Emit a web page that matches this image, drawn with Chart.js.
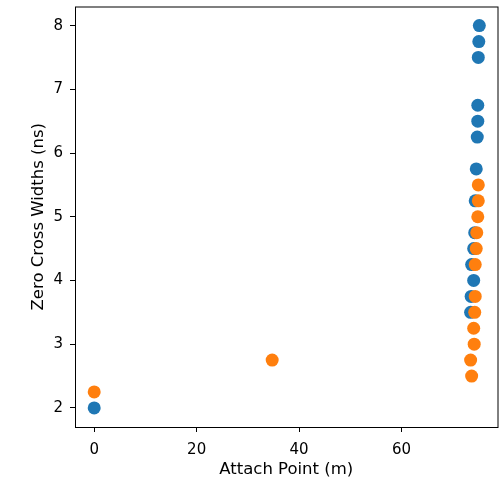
<!DOCTYPE html>
<html>
<head>
<meta charset="utf-8">
<script src="https://cdn.jsdelivr.net/npm/chart.js@4"></script>
<style>
    html, body { margin: 0; padding: 0; background: #fff; }
    #wrap { width: 504px; height: 480px; }
</style>
</head>
<body>
<div id="wrap"><canvas id="scatterChart" width="504" height="480"></canvas></div>
<script>
// blue series
const blueX = [0, 75.2, 75.1, 75.0, 74.9, 74.9, 74.8, 74.6, 74.4, 74.3, 74.1, 73.7, 74.1, 73.6, 73.5];
const blueY = [2.0, 8.0, 7.75, 7.5, 6.75, 6.5, 6.25, 5.75, 5.25, 4.75, 4.5, 4.25, 4.0, 3.75, 3.5];
// orange series
const orangeX = [0, 34.75, 75.0, 75.0, 74.9, 74.7, 74.6, 74.4, 74.4, 74.3, 74.1, 74.2, 73.5, 73.7];
const orangeY = [2.25, 2.75, 5.5, 5.25, 5.0, 4.75, 4.5, 4.25, 3.75, 3.5, 3.25, 3.0, 2.75, 2.5];

const xTicks = [0, 20, 40, 60];
const yTicks = [2, 3, 4, 5, 6, 7, 8];

function toPoints(xs, ys) {
    return xs.map((x, i) => ({ x: x, y: ys[i] }));
}

// matplotlib draws all four spines
const boxPlugin = {
    id: 'box',
    afterDraw(chart) {
        const { ctx, chartArea: a } = chart;
        ctx.save();
        ctx.strokeStyle = '#000';
        ctx.lineWidth = 1;
        ctx.strokeRect(a.left + 0.5, a.top + 0.5, a.right - a.left, a.bottom - a.top);
        ctx.restore();
    }
};

const tickFont = { family: 'DejaVu Sans', size: 15 };
const yTickFont = { family: 'DejaVu Sans', size: 15, lineHeight: 0.6 };
const titleFont = { family: 'DejaVu Sans', size: 16.5 };

new Chart(document.getElementById('scatterChart'), {
    type: 'scatter',
    data: {
        datasets: [{
            data: toPoints(blueX, blueY),
            backgroundColor: '#1f77b4',
            borderWidth: 0,
            pointRadius: 6.5,
            order: 1
        }, {
            data: toPoints(orangeX, orangeY),
            backgroundColor: '#ff7f0e',
            borderWidth: 0,
            pointRadius: 6.5,
            order: 0
        }]
    },
    plugins: [boxPlugin],
    options: {
        responsive: false,
        animation: false,
        layout: { padding: { left: 0, top: 5, right: 6, bottom: 0 } },
        plugins: { legend: { display: false }, tooltip: { enabled: false } },
        scales: {
            x: {
                type: 'linear',
                min: -3.75,
                max: 78.75,
                afterBuildTicks: scale => { scale.ticks = xTicks.map(v => ({ value: v })); },
                afterFit: scale => {
                    scale.height = 53;
                    scale.paddingLeft = 0;
                    scale.paddingRight = 0;
                },
                border: { display: false },
                grid: { drawOnChartArea: false, drawTicks: true, tickLength: 5, color: '#000' },
                ticks: { color: '#000', font: tickFont, padding: 9, maxRotation: 0 },
                title: { display: true, text: 'Attach Point (m)', color: '#000', font: titleFont, padding: { top: 0, bottom: 0 } }
            },
            y: {
                type: 'linear',
                min: 1.7,
                max: 8.3,
                afterBuildTicks: scale => { scale.ticks = yTicks.map(v => ({ value: v })); },
                afterFit: scale => {
                    scale.width = 75;
                    scale.paddingTop = 0;
                    scale.paddingBottom = 0;
                },
                border: { display: false },
                grid: { drawOnChartArea: false, drawTicks: true, tickLength: 5, color: '#000' },
                ticks: { color: '#000', font: yTickFont, padding: 7 },
                title: { display: true, text: 'Zero Cross Widths (ns)', color: '#000', font: titleFont, padding: { top: 29, bottom: 0 } }
            }
        }
    }
});
</script>
</body>
</html>
